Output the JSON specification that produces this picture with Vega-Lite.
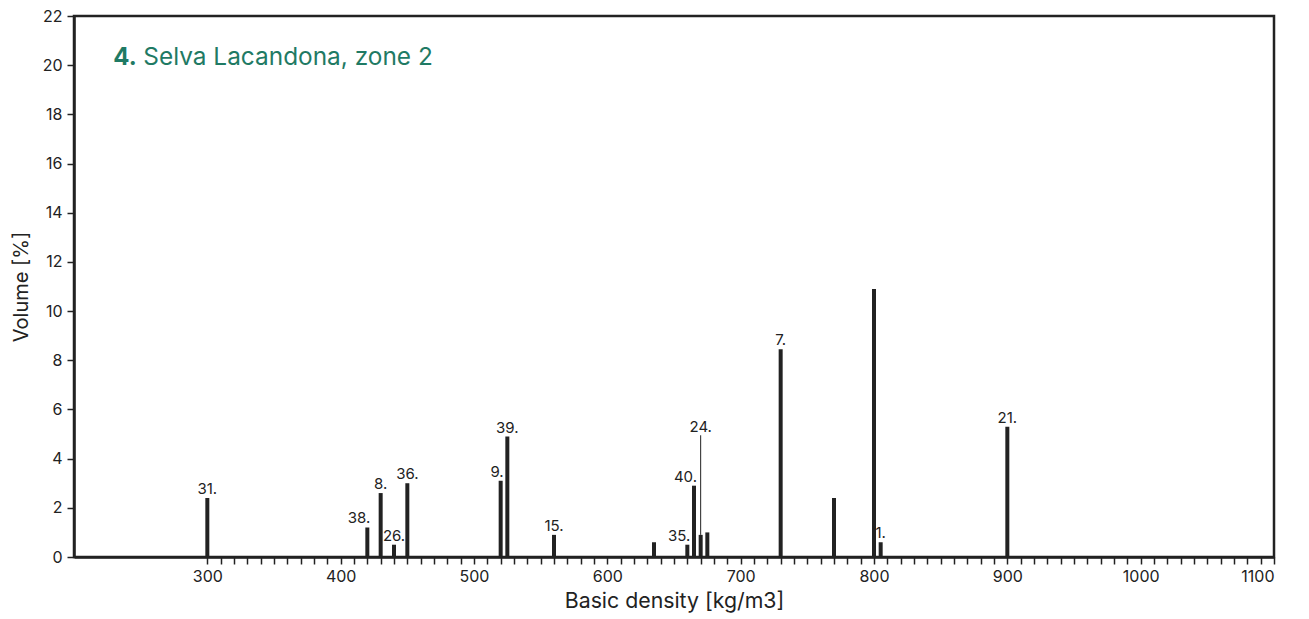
{
  "$schema": "https://vega.github.io/schema/vega-lite/v6.json",
  "width": 1200,
  "height": 541,
  "autosize": "none",
  "padding": {"left": 74, "top": 16, "right": 35, "bottom": 62},
  "background": "white",
  "config": {
    "font": "Inter",
    "view": {"stroke": "#222222", "strokeWidth": 2.5},
    "axis": {"grid": false, "domainColor": "#222222", "domainWidth": 2.5, "tickColor": "#222222", "tickWidth": 1.5, "labelColor": "#222222", "titleColor": "#222222", "labelFont": "Inter", "titleFont": "Inter", "titleFontWeight": "normal"}
  },
  "data": {"values": [
    {"density": 300, "volume": 2.4, "label": "31."},
    {"density": 420, "volume": 1.2, "label": "38."},
    {"density": 430, "volume": 2.6, "label": "8."},
    {"density": 440, "volume": 0.5, "label": "26."},
    {"density": 450, "volume": 3.0, "label": "36."},
    {"density": 520, "volume": 3.1, "label": "9."},
    {"density": 525, "volume": 4.9, "label": "39."},
    {"density": 560, "volume": 0.9, "label": "15."},
    {"density": 635, "volume": 0.6, "label": ""},
    {"density": 660, "volume": 0.5, "label": "35."},
    {"density": 665, "volume": 2.9, "label": "40."},
    {"density": 670, "volume": 0.9, "label": "24.", "label_at": 4.95},
    {"density": 675, "volume": 1.0, "label": ""},
    {"density": 730, "volume": 8.45, "label": "7."},
    {"density": 770, "volume": 2.4, "label": ""},
    {"density": 800, "volume": 10.9, "label": ""},
    {"density": 805, "volume": 0.6, "label": "1."},
    {"density": 900, "volume": 5.3, "label": "21."}
  ]},
  "layer": [
    {
      "mark": {"type": "rule", "strokeWidth": 4, "color": "#222222", "strokeCap": "butt"},
      "encoding": {
        "x": {"field": "density", "type": "quantitative",
          "scale": {"domain": [200, 1100], "nice": false, "zero": false},
          "axis": {"title": "Basic density [kg/m3]", "titleFontSize": 21.3, "titlePadding": 6, "labelFontSize": 16, "tickSize": 7, "labelPadding": 4, "tickCount": 200,
            "values": [300,310,320,330,340,350,360,370,380,390,400,410,420,430,440,450,460,470,480,490,500,510,520,530,540,550,560,570,580,590,600,610,620,630,640,650,660,670,680,690,700,710,720,730,740,750,760,770,780,790,800,810,820,830,840,850,860,870,880,890,900,910,920,930,940,950,960,970,980,990,1000,1010,1020,1030,1040,1050,1060,1070,1080,1090,1100],
            "labelExpr": "datum.value % 100 === 0 ? datum.value : ''", "labelOverlap": false, "labelBound": false}},
        "y": {"field": "volume", "type": "quantitative",
          "scale": {"domain": [0, 22], "nice": false},
          "axis": {"title": "Volume [%]", "titleFontSize": 20, "titlePadding": 11, "labelFontSize": 16, "tickSize": 7, "labelPadding": 5, "tickCount": 50, "format": "d", "values": [0,2,4,6,8,10,12,14,16,18,20,22]}},
        "y2": {"datum": 0}
      }
    },
    {
      "transform": [{"filter": "datum.label_at != null"}],
      "mark": {"type": "rule", "strokeWidth": 1, "color": "#222222"},
      "encoding": {
        "x": {"field": "density", "type": "quantitative"},
        "y": {"field": "label_at", "type": "quantitative"},
        "y2": {"field": "volume"}
      }
    },
    {
      "transform": [{"filter": "datum.label_at == null && indexof(['38.','9.','40.','35.'], datum.label) < 0"}],
      "mark": {"type": "text", "fontSize": 15, "color": "#222222", "baseline": "alphabetic", "align": "center", "dy": -4},
      "encoding": {
        "x": {"field": "density", "type": "quantitative"},
        "y": {"field": "volume", "type": "quantitative"},
        "text": {"field": "label"}
      }
    },
    {
      "transform": [{"filter": "indexof(['38.','9.','40.','35.'], datum.label) >= 0"}],
      "mark": {"type": "text", "fontSize": 15, "color": "#222222", "baseline": "alphabetic", "align": "right", "dy": -4, "dx": 3},
      "encoding": {
        "x": {"field": "density", "type": "quantitative"},
        "y": {"field": "volume", "type": "quantitative"},
        "text": {"field": "label"}
      }
    },
    {
      "transform": [{"filter": "datum.label_at != null"}],
      "mark": {"type": "text", "fontSize": 15, "color": "#222222", "baseline": "alphabetic", "align": "center", "dy": -3},
      "encoding": {
        "x": {"field": "density", "type": "quantitative"},
        "y": {"field": "label_at", "type": "quantitative"},
        "text": {"field": "label"}
      }
    },
    {
      "data": {"values": [{"part": "number"}]},
      "mark": {"type": "text", "fontSize": 24, "fontWeight": "bold", "color": "#1f7a64", "baseline": "alphabetic", "align": "left", "text": "4."},
      "encoding": {
        "x": {"datum": 229.5, "type": "quantitative"},
        "y": {"datum": 19.99, "type": "quantitative"}
      }
    },
    {
      "data": {"values": [{"part": "name"}]},
      "mark": {"type": "text", "fontSize": 24.4, "color": "#1f7a64", "baseline": "alphabetic", "align": "left", "text": "Selva Lacandona, zone 2"},
      "encoding": {
        "x": {"datum": 252.0, "type": "quantitative"},
        "y": {"datum": 19.99, "type": "quantitative"}
      }
    }
  ]
}
